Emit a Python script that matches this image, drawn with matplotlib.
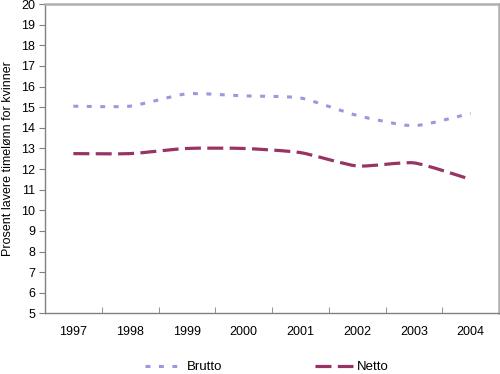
import matplotlib
matplotlib.use("Agg")
import matplotlib.pyplot as plt
from matplotlib.path import Path
from matplotlib.lines import Line2D
import matplotlib.patches as patches
import numpy as np

years = ['1997', '1998', '1999', '2000', '2001', '2002', '2003', '2004']
brutto = [15.05, 15.05, 15.65, 15.55, 15.45, 14.6, 14.1, 14.7]
netto = [12.75, 12.75, 13.0, 13.0, 12.8, 12.15, 12.3, 11.5]

c_brutto = '#9999dd'
c_netto = '#993366'


def smooth_path(xs, ys, k=10.0):
    # lightly smoothed line: Catmull-Rom segments as cubic beziers
    pts = np.column_stack([xs, ys]).astype(float)
    n = len(pts)
    verts = [pts[0]]
    codes = [Path.MOVETO]
    for i in range(n - 1):
        p0 = pts[max(i - 1, 0)]
        p1 = pts[i]
        p2 = pts[i + 1]
        p3 = pts[min(i + 2, n - 1)]
        c1 = p1 + (p2 - p0) / k
        c2 = p2 - (p3 - p1) / k
        verts += [c1, c2, p2]
        codes += [Path.CURVE4] * 3
    return Path(verts, codes)


plt.rcParams['font.family'] = ['Liberation Sans', 'DejaVu Sans']

fig = plt.figure(figsize=(5.0, 3.74), dpi=100)
ax = fig.add_axes([0.09, 0.162, 0.908, 0.827])

x = np.arange(len(years))
brutto_style = dict(color=c_brutto, lw=2.2, dashes=(1.6, 2.8))
netto_style = dict(color=c_netto, lw=2.3, dashes=(5.0, 2.0))

ax.add_patch(patches.PathPatch(smooth_path(x, brutto), fill=False,
                               edgecolor=c_brutto, lw=2.2,
                               linestyle=(0, (1.6, 2.8)), capstyle='butt'))
ax.add_patch(patches.PathPatch(smooth_path(x, netto), fill=False,
                               edgecolor=c_netto, lw=2.3,
                               linestyle=(0, (5.0, 2.0)), capstyle='butt'))

ax.set_xlim(-0.5, len(years) - 0.5)
ax.set_ylim(5, 20)
ax.set_yticks(range(5, 21))
ax.set_xticks(x)
ax.set_xticklabels(years)
ax.set_xticks(np.arange(-0.5, len(years)), minor=True)
ax.tick_params(axis='x', which='major', length=0, pad=9, labelsize=9)
ax.tick_params(axis='x', which='minor', length=4, color='#808080', direction='in')
ax.tick_params(axis='y', length=4, color='#808080', pad=3, labelsize=9)

for side in ['left', 'bottom']:
    ax.spines[side].set_color('#808080')
    ax.spines[side].set_linewidth(1.0)
for side in ['top', 'right']:
    ax.spines[side].set_color('#b0b0b0')
    ax.spines[side].set_linewidth(1.8)

ax.set_ylabel('Prosent lavere timelønn for kvinner', fontsize=9, va='center')
ax.yaxis.set_label_coords(-0.081, 0.5)

handles = [Line2D([], [], **brutto_style), Line2D([], [], **netto_style)]
fig.legend(handles, ['Brutto', 'Netto'], loc='center', ncol=2,
           bbox_to_anchor=(0.534, 0.018), frameon=False, fontsize=9.5,
           handlelength=2.9, handletextpad=0.3, columnspacing=7.0)

fig.savefig('out.png', dpi=100)
